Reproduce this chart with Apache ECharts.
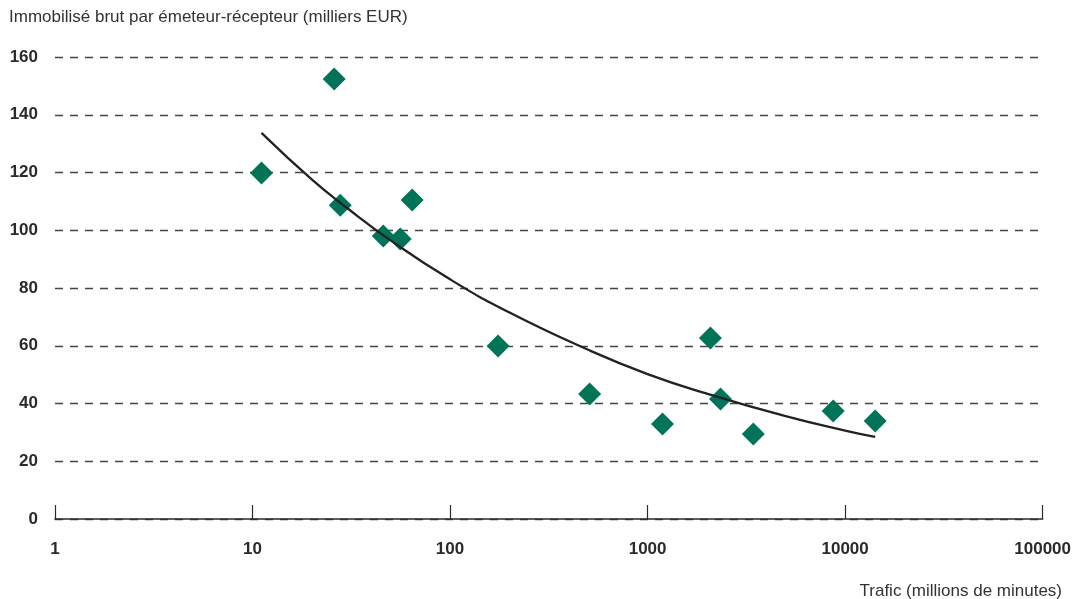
<!DOCTYPE html>
<html><head><meta charset="utf-8">
<script src="https://cdn.jsdelivr.net/npm/echarts@6/dist/echarts.min.js"></script>
<style>html,body{margin:0;padding:0;background:#fff}#c{width:1074px;height:599px}</style>
</head><body><div id="c"></div>
<script>
const yTitle = "Immobilisé brut par émeteur-récepteur (milliers EUR)";
const xTitle = "Trafic (millions de minutes)";
const traffic = [11.1, 25.9, 27.8, 45.9, 55.9, 64.3, 175, 509, 1190, 2080, 2340, 3430, 8700, 14200];
const capital = [119.8, 152.4, 108.7, 98.0, 97.0, 110.5, 59.9, 43.3, 32.9, 62.7, 41.6, 29.4, 37.4, 33.9];
const trendX = [11.1, 20, 30, 50, 100, 200, 500, 1000, 2000, 5000, 10000, 14200];
const trendY = [133.7, 117.5, 107.8, 96.5, 83.0, 71.5, 58.6, 50.2, 43.4, 35.6, 30.6, 28.4];

const pts = traffic.map((v, i) => [v, capital[i]]);
const trend = trendX.map((v, i) => [v, trendY[i]]);
const font = "'Liberation Sans', Arial, sans-serif";
const chart = echarts.init(document.getElementById('c'), null, {renderer: 'canvas'});
chart.setOption({
  animation: false,
  title: [
    {text: yTitle, left: 9, top: 9, padding: 0, textStyle: {fontFamily: font, fontSize: 17, fontWeight: 'normal', color: '#333'}},
    {text: xTitle, right: 12, top: 583, padding: 0, textStyle: {fontFamily: font, fontSize: 17, fontWeight: 'normal', color: '#333'}}
  ],
  grid: {left: 55, right: 29, top: 57, bottom: 80, containLabel: false},
  xAxis: {
    type: 'log', logBase: 10, min: 1, max: 100000,
    axisLine: {show: true, lineStyle: {color: '#2a2a2a', width: 1.6}},
    axisTick: {show: true, inside: true, length: 14, lineStyle: {color: '#2a2a2a', width: 1.2}},
    axisLabel: {fontFamily: font, fontSize: 17, fontWeight: 'bold', color: '#2a2a2a', margin: 22,
      formatter: v => String(Math.round(v))},
    splitLine: {show: false}
  },
  yAxis: {
    type: 'value', min: 0, max: 160, interval: 20,
    axisLine: {show: false}, axisTick: {show: false},
    axisLabel: {fontFamily: font, fontSize: 17, fontWeight: 'bold', color: '#2a2a2a', margin: 17},
    splitLine: {show: true, lineStyle: {color: '#444', width: 1.3, type: [8, 7]}}
  },
  series: [
    {type: 'line', data: trend, smooth: true, showSymbol: false, symbol: 'none',
     lineStyle: {color: '#222', width: 2.3}, z: 3},
    {type: 'scatter', data: pts, symbol: 'diamond', symbolSize: 23,
     itemStyle: {color: '#007358', opacity: 1}, z: 2}
  ]
});
</script></body></html>
